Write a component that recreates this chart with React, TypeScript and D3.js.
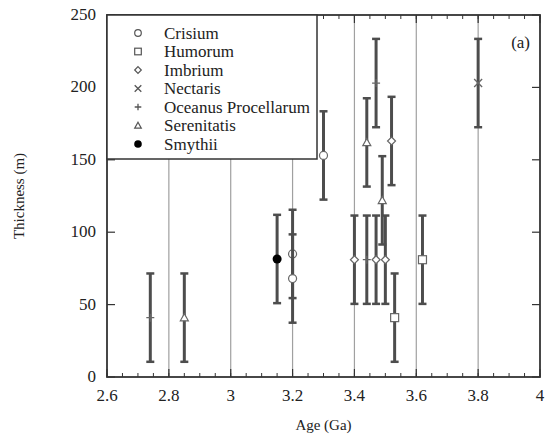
import React from "react";
import * as d3 from "d3";

// ages (Ga), thickness (m) and half error bar (m) per mare
const crisiumAge = [3.2, 3.2, 3.3];
const crisiumThk = [85, 68, 153];
const crisiumErr = [30.5, 30.5, 30.5];

const humorumAge = [3.53, 3.62];
const humorumThk = [41, 81];
const humorumErr = [30.5, 30.5];

const imbriumAge = [3.4, 3.47, 3.5, 3.52];
const imbriumThk = [81, 81, 81, 163];
const imbriumErr = [30.5, 30.5, 30.5, 30.5];

const nectarisAge = [3.8];
const nectarisThk = [203];
const nectarisErr = [30.5];

const oceanusAge = [2.74, 3.44, 3.47];
const oceanusThk = [41, 81, 203];
const oceanusErr = [30.5, 30.5, 30.5];

const serenitatisAge = [2.85, 3.44, 3.49];
const serenitatisThk = [41, 162, 122];
const serenitatisErr = [30.5, 30.5, 30.5];

const smythiiAge = [3.15];
const smythiiThk = [81.5];
const smythiiErr = [30.5];

const xTicks = [2.6, 2.8, 3, 3.2, 3.4, 3.6, 3.8, 4];
const yTicks = [0, 50, 100, 150, 200, 250];

type Shape = "circle" | "square" | "diamond" | "cross" | "plus" | "triangle" | "dot";

const series: { name: string; shape: Shape; age: number[]; thk: number[]; err: number[] }[] = [
  { name: "Crisium", shape: "circle", age: crisiumAge, thk: crisiumThk, err: crisiumErr },
  { name: "Humorum", shape: "square", age: humorumAge, thk: humorumThk, err: humorumErr },
  { name: "Imbrium", shape: "diamond", age: imbriumAge, thk: imbriumThk, err: imbriumErr },
  { name: "Nectaris", shape: "cross", age: nectarisAge, thk: nectarisThk, err: nectarisErr },
  { name: "Oceanus Procellarum", shape: "plus", age: oceanusAge, thk: oceanusThk, err: oceanusErr },
  { name: "Serenitatis", shape: "triangle", age: serenitatisAge, thk: serenitatisThk, err: serenitatisErr },
  { name: "Smythii", shape: "dot", age: smythiiAge, thk: smythiiThk, err: smythiiErr },
];

const W = 545, H = 440;
const m = { left: 107, right: 5, top: 15, bottom: 63 };
const font = "Times New Roman, Liberation Serif, serif";
const barColor = "#4d4d4d";
const markColor = "#666";

function Marker({ shape, x, y, s, color }: { shape: Shape; x: number; y: number; s: number; color: string }) {
  const st = { fill: "white", stroke: color, strokeWidth: 1.2 };
  switch (shape) {
    case "circle":
      return <circle cx={x} cy={y} r={s} {...st} />;
    case "square":
      return <rect x={x - s} y={y - s} width={2 * s} height={2 * s} {...st} />;
    case "diamond":
      return <path d={`M${x},${y - s}L${x + s},${y}L${x},${y + s}L${x - s},${y}Z`} {...st} />;
    case "triangle":
      return <path d={`M${x},${y - s}L${x + s},${y + s * 0.8}L${x - s},${y + s * 0.8}Z`} {...st} />;
    case "cross":
      return <path d={`M${x - s},${y - s}L${x + s},${y + s}M${x - s},${y + s}L${x + s},${y - s}`} fill="none" stroke={color} strokeWidth={1.3} />;
    case "plus":
      return <path d={`M${x - s},${y}L${x + s},${y}M${x},${y - s}L${x},${y + s}`} fill="none" stroke={color} strokeWidth={1.3} />;
    case "dot":
      return <circle cx={x} cy={y} r={s + 0.5} fill="#000" />;
  }
}

function Label(props: any) {
  return <text fontFamily={font} fill="#222" {...props} />;
}

export default function App() {
  const x = d3.scaleLinear().domain([2.6, 4]).range([m.left, W - m.right]);
  const y = d3.scaleLinear().domain([0, 250]).range([H - m.bottom, m.top]);
  const [x0, x1] = x.range();
  const [y0, y1] = y.range();
  const minor = d3.range(2.6, 4.0001, 0.05).map((v) => +v.toFixed(2));

  return (
    <svg width={W} height={H} style={{ position: "absolute", left: 0, top: 0, background: "white" }}>
      {/* vertical grid */}
      {xTicks.slice(1, -1).map((t) => (
        <line key={"g" + t} x1={x(t)} x2={x(t)} y1={y0} y2={y1} stroke="#a0a0a0" strokeWidth={1.2} />
      ))}
      {/* minor x ticks */}
      {minor.map((t, i) => (
        <g key={"mx" + i}>
          <line x1={x(t)} x2={x(t)} y1={y0} y2={y0 - 4} stroke="#333" strokeWidth={1} />
          <line x1={x(t)} x2={x(t)} y1={y1} y2={y1 + 4} stroke="#333" strokeWidth={1} />
        </g>
      ))}
      {xTicks.map((t) => (
        <line key={"xt" + t} x1={x(t)} x2={x(t)} y1={y0} y2={y0 - 8} stroke="#333" strokeWidth={1.2} />
      ))}
      {xTicks.map((t) => (
        <line key={"xtt" + t} x1={x(t)} x2={x(t)} y1={y1} y2={y1 + 8} stroke="#333" strokeWidth={1.2} />
      ))}
      {xTicks.map((t) => (
        <Label key={"xl" + t} x={x(t)} y={y0 + 24} textAnchor="middle" fontSize={17}>{String(t)}</Label>
      ))}
      {yTicks.map((t) => (
        <g key={"yt" + t}>
          <line x1={x0} x2={x0 + 8} y1={y(t)} y2={y(t)} stroke="#333" strokeWidth={1.2} />
          <line x1={x1} x2={x1 - 8} y1={y(t)} y2={y(t)} stroke="#333" strokeWidth={1.2} />
        </g>
      ))}
      {yTicks.map((t) => (
        <Label key={"yl" + t} x={x0 - 11} y={y(t) + 5} textAnchor="end" fontSize={17}>{String(t)}</Label>
      ))}
      {/* error bars and markers */}
      {series.map((s) =>
        s.age.map((a, i) => {
          const cx = x(a), cy = y(s.thk[i]);
          const top = y(s.thk[i] + s.err[i]), bot = y(s.thk[i] - s.err[i]);
          return (
            <g key={s.name + i}>
              <line x1={cx} x2={cx} y1={top} y2={bot} stroke={barColor} strokeWidth={3} />
              <line x1={cx - 4} x2={cx + 4} y1={top} y2={top} stroke={barColor} strokeWidth={2.5} />
              <line x1={cx - 4} x2={cx + 4} y1={bot} y2={bot} stroke={barColor} strokeWidth={2.5} />
              <Marker shape={s.shape} x={cx} y={cy} s={4} color={markColor} />
            </g>
          );
        })
      )}
      {/* frame */}
      <rect x={x0} y={y1} width={x1 - x0} height={y0 - y1} fill="none" stroke="#333" strokeWidth={1.8} />
      {/* legend */}
      <rect x={x0} y={y1} width={210} height={144} fill="white" stroke="#333" strokeWidth={1.5} />
      {series.map((s, i) => (
        <Marker key={"lm" + s.name} shape={s.shape} x={138} y={33 + i * 18.5} s={3.3} color="#555" />
      ))}
      {series.map((s, i) => (
        <Label key={"lt" + s.name} x={164} y={33 + i * 18.5 + 5.5} fontSize={17}>{s.name}</Label>
      ))}
      <Label x={x1 - 10} y={48} textAnchor="end" fontSize={17}>(a)</Label>
      <Label x={(x0 + x1) / 2} y={430} textAnchor="middle" fontSize={15}>Age (Ga)</Label>
      <Label transform={`translate(24,${(y0 + y1) / 2}) rotate(-90)`} textAnchor="middle" fontSize={15}>Thickness (m)</Label>
    </svg>
  );
}
